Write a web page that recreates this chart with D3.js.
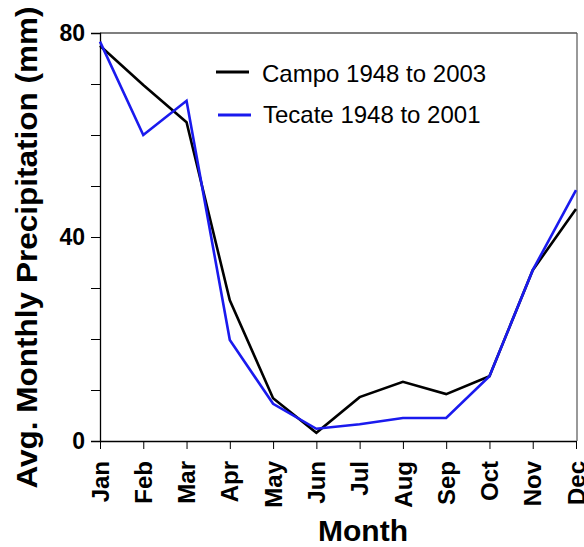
<!DOCTYPE html>
<html><head><meta charset="utf-8">
<script src="https://cdn.jsdelivr.net/npm/d3@7"></script>
<style>body{margin:0;background:#fff}svg{display:block}text{font-family:"Liberation Sans",Arial,sans-serif}</style>
</head><body><svg id="c" width="584" height="547"></svg>
<script>
const months = ["Jan","Feb","Mar","Apr","May","Jun","Jul","Aug","Sep","Oct","Nov","Dec"];
const campo = [77.5, 69.8, 62.5, 27.6, 8.4, 1.6, 8.6, 11.6, 9.2, 12.7, 33.5, 45.5];
const tecate = [78.3, 60.0, 66.7, 19.8, 7.3, 2.4, 3.3, 4.5, 4.5, 12.7, 33.5, 49.2];
const seriesNames = ["Campo 1948 to 2003", "Tecate 1948 to 2001"];
const seriesColors = ["#000000", "#1a1aee"];
const yTicks = [0, 10, 20, 30, 40, 50, 60, 70, 80];
const yLabels = [0, 40, 80];

const svg = d3.select("#c");
const L = 100, R = 576, T = 33, B = 441;
const x = d3.scalePoint().domain(months).range([L, R]);
const y = d3.scaleLinear().domain([0, 80]).range([B, T]);

// frame
svg.append("line").attr("x1", L).attr("x2", R+1).attr("y1", T).attr("y2", T).attr("stroke", "#000").attr("stroke-width", 1.2);
svg.append("line").attr("x1", R+1).attr("x2", R+1).attr("y1", T).attr("y2", B).attr("stroke", "#555").attr("stroke-width", 1.2);

const yAxis = svg.append("g").attr("transform", `translate(${L},0)`)
  .call(d3.axisLeft(y).tickValues(yTicks).tickSize(9).tickFormat(""));
yAxis.select(".domain").attr("stroke-width", 1.3);
svg.append("g").selectAll("text").data(yLabels).join("text")
  .attr("x", L - 15).attr("y", d => y(d)).attr("dy", "0.36em")
  .attr("text-anchor", "end").attr("font-size", 23).attr("font-weight", "bold")
  .text(d => d);

const xAxis = svg.append("g").attr("transform", `translate(0,${B})`)
  .call(d3.axisBottom(x).tickSize(8).tickSizeOuter(0).tickFormat(""));
xAxis.select(".domain").attr("stroke-width", 1.3);
svg.append("g").selectAll("text").data(months).join("text")
  .attr("transform", d => `translate(${x(d)},${B + 20}) rotate(-90)`)
  .attr("dy", "0.36em").attr("text-anchor", "end")
  .attr("font-size", 24).attr("font-weight", "bold")
  .text(d => d);

const line = d3.line().x((d, i) => x(months[i])).y(d => y(d));
[campo, tecate].forEach((s, k) => {
  svg.append("path").datum(s).attr("d", line).attr("fill", "none")
    .attr("stroke", seriesColors[k]).attr("stroke-width", 2.6).attr("stroke-linejoin", "miter");
});

// legend
const legY = [72, 115], legText = [82, 123];
seriesNames.forEach((n, k) => {
  svg.append("line").attr("x1", 216 + k*2).attr("x2", 249 + k*2).attr("y1", legY[k]).attr("y2", legY[k])
    .attr("stroke", seriesColors[k]).attr("stroke-width", 3.2);
  svg.append("text").attr("x", 262 + k).attr("y", legText[k]).attr("font-size", 24).text(n);
});

svg.append("text").attr("transform", "translate(37,247.5) rotate(-90)").attr("text-anchor", "middle")
  .attr("font-size", 29).attr("font-weight", "bold")
  .attr("textLength", 482).attr("lengthAdjust", "spacingAndGlyphs")
  .text("Avg. Monthly Precipitation (mm)");
svg.append("text").attr("x", 363).attr("y", 541).attr("text-anchor", "middle")
  .attr("font-size", 30).attr("font-weight", "bold").text("Month");
</script></body></html>
